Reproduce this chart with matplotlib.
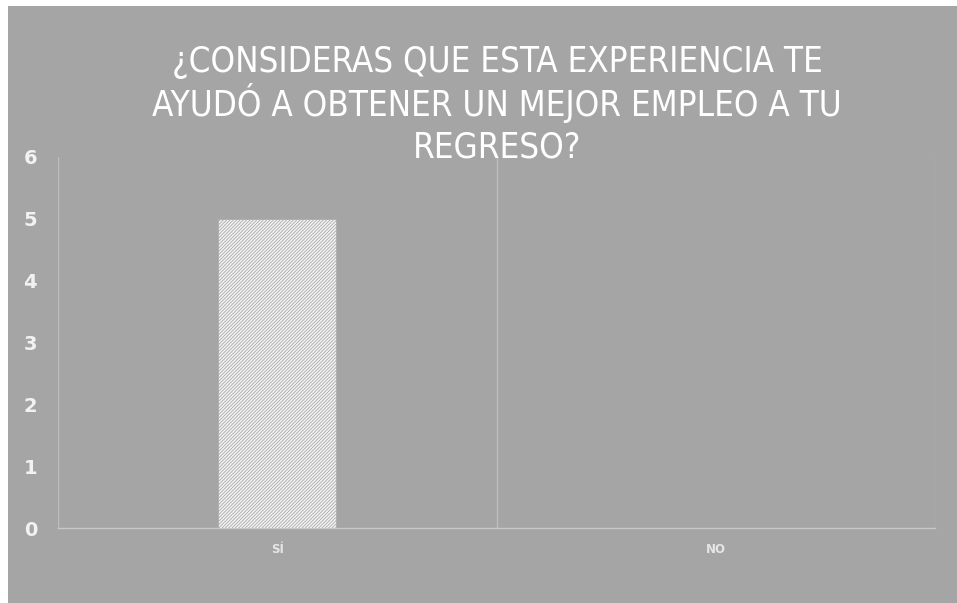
import matplotlib
matplotlib.use("Agg")
import matplotlib.pyplot as plt
from matplotlib.patches import Rectangle

# chart data
categories = ["SÍ", "NO"]
values = [5, 0]
y_ticks = [0, 1, 2, 3, 4, 5, 6]
title_lines = ["¿CONSIDERAS QUE ESTA EXPERIENCIA TE",
               "AYUDÓ A OBTENER UN MEJOR EMPLEO A TU",
               "REGRESO?"]

bg = '#a5a5a5'
plt.rcParams['hatch.linewidth'] = 0.6
plt.rcParams['hatch.color'] = '#a8a8a8'

fig = plt.figure(figsize=(9.57, 6.03), dpi=100, facecolor='white')
# grey panel (small white margin on top/left like the original)
fig.patches.append(Rectangle((8 / 957, 0), 1, 1 - 6 / 603, transform=fig.transFigure,
                             facecolor=bg, edgecolor='none', zorder=-1))

ax = fig.add_axes([58 / 957, 1 - 528 / 603, (935 - 58) / 957, (528 - 157) / 603])
ax.set_facecolor('none')
ax.set_zorder(2)

x = list(range(len(categories)))
ax.bar(x, values, width=0.27, color='#f4f4f4', edgecolor='#a8a8a8', hatch='//////////',
       linewidth=0.5, zorder=3)

ax.set_xlim(-0.5, len(categories) - 0.5)
ax.set_ylim(0, 6)
ax.set_yticks(y_ticks)
ax.set_xticks(x)
ax.set_xticklabels(categories)
# vertical separators between categories
ax.set_xticks([i - 0.5 for i in range(len(categories) + 1)], minor=True)
ax.grid(True, which='minor', axis='x', color='#bdbdbd', linewidth=1)
ax.tick_params(which='both', length=0)
ax.tick_params(axis='y', labelsize=14, labelcolor='#f2f2f2', pad=15)
ax.tick_params(axis='x', labelsize=8.5, labelcolor='#e6e6e6', pad=11)
for lbl in ax.get_yticklabels() + ax.get_xticklabels():
    lbl.set_fontweight('semibold')

for s in ['top', 'left', 'right']:
    ax.spines[s].set_visible(False)
ax.spines['bottom'].set_color('#c8c8c8')
ax.spines['bottom'].set_linewidth(1)

# title, one baseline per line
baselines = [72, 116, 158]
for line, yb in zip(title_lines, baselines):
    fig.text(497 / 957, 1 - yb / 603, line, ha='center', va='baseline', fontsize=25,
             color='white', fontstretch='condensed', zorder=5)

fig.savefig('out.png', dpi=100, facecolor='white')
